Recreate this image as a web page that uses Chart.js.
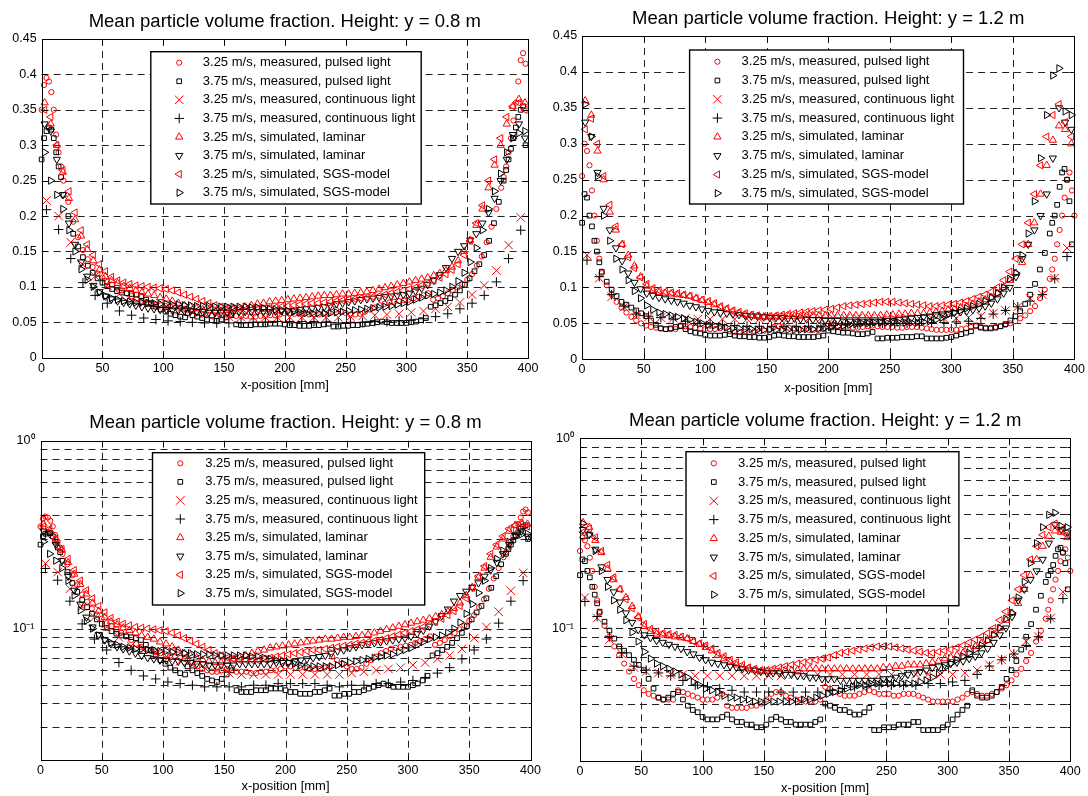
<!DOCTYPE html>
<html><head><meta charset="utf-8">
<script src="https://cdn.jsdelivr.net/npm/chart.js@4/dist/chart.umd.min.js"></script>
<style>
html,body{margin:0;padding:0;background:#fff;}
#wrap{position:relative;width:1088px;height:796px;overflow:hidden;background:#fff;}
canvas{position:absolute;}
</style></head><body>
<div id="wrap">
<canvas id="c1" width="544" height="400" style="left:0;top:0"></canvas>
<canvas id="c2" width="544" height="400" style="left:544px;top:0"></canvas>
<canvas id="c3" width="544" height="396" style="left:0;top:400px"></canvas>
<canvas id="c4" width="544" height="396" style="left:544px;top:400px"></canvas>
</div>
<script>
// ---------------- DATA ----------------
const LABELS = [
  '3.25 m/s, measured, pulsed light',
  '3.75 m/s, measured, pulsed light',
  '3.25 m/s, measured, continuous light',
  '3.75 m/s, measured, continuous light',
  '3.25 m/s, simulated, laminar',
  '3.75 m/s, simulated, laminar',
  '3.25 m/s, simulated, SGS-model',
  '3.75 m/s, simulated, SGS-model'
];
const X_TICKS = [0,50,100,150,200,250,300,350,400];
const Y_TICKS_LIN = [0,0.05,0.1,0.15,0.2,0.25,0.3,0.35,0.4,0.45];
const Y_TICKS_LOG = [0.02,0.03,0.04,0.05,0.06,0.07,0.08,0.09,0.1,0.2,0.3,0.4,0.5,0.6,0.7,0.8,0.9,1];
const Y_LOG_LABELS = {0.1:'10\u207B\u00B9', 1:'10\u2070'};

// x positions of simulated and continuous-light samples [mm]
const X_SIM = [2.5,7.5,12.5,17.5,22.5,27.5,32.5,37.5,42.5,47.5,52.5,57.5,62.5,67.5,72.5,77.5,82.5,87.5,92.5,97.5,
  102.5,107.5,112.5,117.5,122.5,127.5,132.5,137.5,142.5,147.5,152.5,157.5,162.5,167.5,172.5,177.5,182.5,187.5,192.5,197.5,
  202.5,207.5,212.5,217.5,222.5,227.5,232.5,237.5,242.5,247.5,252.5,257.5,262.5,267.5,272.5,277.5,282.5,287.5,292.5,297.5,
  302.5,307.5,312.5,317.5,322.5,327.5,332.5,337.5,342.5,347.5,352.5,357.5,362.5,367.5,372.5,377.5,382.5,387.5,392.5,397.5];
const X_CONT = [4,14,24,34,44,54,64,74,84,94,104,114,124,134,144,154,164,174,184,194,
  204,214,224,234,244,254,264,274,284,294,304,314,324,334,344,354,364,374,384,394];

// ---- Height y = 0.8 m ----
// pulsed light: segments [start x, spacing, values]
const H08_PULSED_325 = [
  [0,2,[0.35,0.385,0.395,0.39,0.375,0.35,0.315,0.29,0.27]],
  [18,4,[0.25,0.22,0.192,0.17,0.152,0.139,0.128,0.119,0.113,0.107,0.103,0.099,0.095,0.091,0.087,0.083,0.08,0.078,0.076,0.075,0.074,0.073,0.072,0.071,0.07,0.069]],
  [120,4,[0.068,0.066,0.063,0.061,0.06,0.059,0.059,0.06,0.061,0.062]],
  [160,4,[0.059,0.059,0.059,0.058,0.058,0.059,0.059,0.06,0.06,0.061,0.063,0.063,0.062,0.062,0.062,0.061,0.061,0.061,0.062,0.063]],
  [238,4,[0.071,0.068,0.065,0.063,0.061,0.061,0.062,0.065,0.068,0.071,0.074,0.076,0.078,0.079,0.08,0.081,0.082,0.084,0.086,0.088,0.091]],
  [322,4,[0.082,0.084,0.087,0.091,0.095,0.099,0.104,0.11,0.118,0.13,0.143,0.163,0.185,0.21,0.24]],
  [380,2,[0.255,0.27,0.29,0.31,0.335,0.36,0.39,0.42,0.43,0.415]]
];
const H08_PULSED_375 = [
  [0,2,[0.28,0.31,0.32,0.325,0.322,0.31,0.29,0.27,0.255]],
  [18,4,[0.23,0.2,0.175,0.157,0.142,0.13,0.12,0.112,0.106,0.101,0.097,0.094,0.092,0.091,0.09,0.089,0.087,0.082,0.077,0.072,0.068,0.065,0.062,0.06,0.058,0.057]],
  [120,4,[0.063,0.06,0.058,0.056,0.054,0.053,0.052,0.054,0.057,0.06]],
  [160,4,[0.047,0.046,0.046,0.046,0.047,0.047,0.047,0.048,0.048,0.048,0.047,0.046,0.046,0.045,0.045,0.045,0.046,0.046,0.047,0.048]],
  [240,4,[0.044,0.044,0.045,0.045,0.046,0.046,0.047,0.048,0.049,0.05,0.051,0.05,0.049,0.049,0.049,0.049,0.05,0.051,0.053,0.056]],
  [320,4,[0.072,0.074,0.077,0.08,0.084,0.089,0.095,0.103,0.112,0.122,0.132,0.145,0.165,0.19,0.22]],
  [380,2,[0.25,0.265,0.28,0.295,0.31,0.325,0.34,0.35,0.355,0.3]]
];
const H08_CONT_325 = [0.222,0.2,0.163,0.131,0.115,0.102,0.09,0.081,0.077,0.074,
  0.07,0.067,0.064,0.062,0.06,0.058,0.057,0.057,0.057,0.057,
  0.057,0.057,0.057,0.057,0.057,0.058,0.059,0.06,0.061,0.062,
  0.064,0.066,0.069,0.072,0.078,0.089,0.102,0.123,0.159,0.198];
const H08_CONT_375 = [0.209,0.181,0.14,0.106,0.088,0.077,0.066,0.06,0.056,0.054,
  0.052,0.051,0.05,0.049,0.049,0.049,0.049,0.05,0.05,0.051,
  0.051,0.051,0.051,0.05,0.049,0.05,0.05,0.051,0.051,0.052,
  0.053,0.055,0.058,0.062,0.069,0.077,0.088,0.107,0.14,0.18];
const H08_LAM_325 = [0.36,0.33,0.3,0.262,0.225,0.195,0.172,0.153,0.137,0.124,
  0.115,0.109,0.105,0.101,0.098,0.095,0.092,0.09,0.088,0.085,
  0.083,0.08,0.077,0.074,0.072,0.07,0.068,0.067,0.066,0.066,
  0.067,0.069,0.07,0.072,0.074,0.076,0.077,0.079,0.08,0.081,
  0.082,0.083,0.084,0.085,0.086,0.087,0.088,0.088,0.089,0.09,
  0.09,0.091,0.092,0.093,0.095,0.097,0.099,0.101,0.103,0.105,
  0.107,0.109,0.111,0.113,0.116,0.119,0.123,0.128,0.137,0.15,
  0.166,0.187,0.21,0.24,0.272,0.3,0.33,0.355,0.365,0.36];
const H08_LAM_375 = [0.33,0.32,0.28,0.23,0.19,0.16,0.135,0.115,0.102,0.093,
  0.087,0.083,0.08,0.078,0.076,0.074,0.072,0.07,0.069,0.068,
  0.068,0.067,0.067,0.066,0.066,0.065,0.065,0.064,0.064,0.064,
  0.064,0.064,0.065,0.065,0.065,0.065,0.065,0.065,0.066,0.066,
  0.066,0.067,0.068,0.069,0.07,0.071,0.072,0.074,0.076,0.077,
  0.079,0.08,0.082,0.083,0.084,0.085,0.086,0.087,0.088,0.089,
  0.091,0.094,0.098,0.103,0.109,0.117,0.127,0.14,0.15,0.158,
  0.166,0.175,0.19,0.205,0.225,0.25,0.28,0.315,0.33,0.31];
const H08_SGS_325 = [0.35,0.34,0.3,0.265,0.235,0.205,0.18,0.16,0.145,0.132,
  0.122,0.114,0.109,0.106,0.104,0.102,0.101,0.1,0.099,0.098,
  0.097,0.095,0.092,0.089,0.086,0.083,0.08,0.077,0.074,0.072,
  0.07,0.069,0.068,0.068,0.068,0.068,0.069,0.07,0.071,0.072,
  0.073,0.074,0.075,0.076,0.077,0.077,0.078,0.079,0.08,0.081,
  0.082,0.083,0.084,0.085,0.086,0.087,0.089,0.091,0.093,0.095,
  0.097,0.099,0.102,0.105,0.109,0.113,0.118,0.124,0.132,0.145,
  0.165,0.19,0.215,0.25,0.28,0.31,0.34,0.355,0.36,0.35];
const H08_SGS_375 = [0.29,0.25,0.23,0.21,0.18,0.15,0.125,0.11,0.1,0.092,
  0.087,0.084,0.082,0.08,0.079,0.078,0.078,0.077,0.077,0.076,
  0.076,0.075,0.075,0.074,0.074,0.073,0.073,0.073,0.072,0.072,
  0.072,0.072,0.072,0.072,0.071,0.071,0.07,0.069,0.068,0.067,
  0.066,0.065,0.064,0.063,0.063,0.063,0.063,0.063,0.064,0.065,
  0.066,0.067,0.068,0.069,0.07,0.071,0.072,0.073,0.075,0.077,
  0.079,0.082,0.085,0.088,0.09,0.092,0.095,0.1,0.108,0.12,
  0.135,0.155,0.18,0.21,0.235,0.26,0.29,0.31,0.317,0.32];

// ---- Height y = 1.2 m ----
const H12_PULSED_325 = [
  [0,2,[0.255,0.3,0.29,0.27,0.235,0.2,0.165,0.14]],
  [16,4,[0.12,0.103,0.09,0.08,0.072,0.065,0.059,0.054,0.05,0.047,0.045,0.044,0.043,0.042,0.042,0.042]],
  [80,4,[0.047,0.046,0.045,0.044,0.043,0.042,0.042,0.042,0.043,0.045]],
  [120,4,[0.039,0.038,0.038,0.038,0.038,0.039,0.039,0.04,0.042,0.045,0.046,0.046,0.044,0.043,0.042,0.042,0.041,0.041,0.041,0.042]],
  [200,4,[0.049,0.048,0.046,0.045,0.044,0.044,0.044,0.045,0.046,0.047,0.046,0.045,0.045,0.045,0.044,0.044,0.045,0.045,0.045,0.044,0.043,0.042,0.041,0.041,0.041,0.041,0.041,0.042,0.043,0.045]],
  [320,4,[0.046,0.045,0.044,0.044,0.045,0.046,0.048,0.05,0.053,0.057,0.061,0.067,0.074,0.085,0.097,0.112]],
  [382,2,[0.125,0.14,0.16,0.18,0.2,0.225,0.25,0.26,0.235,0.2]]
];
const H12_PULSED_375 = [
  [0,2,[0.19,0.23,0.225,0.2,0.185,0.165,0.15,0.135]],
  [16,4,[0.122,0.108,0.097,0.088,0.08,0.076,0.072,0.068,0.064,0.06,0.054,0.048,0.043,0.042,0.043,0.045,0.046,0.042,0.039,0.037,0.036,0.034,0.033,0.033,0.033,0.034]],
  [120,4,[0.035,0.033,0.032,0.032,0.031,0.031,0.03,0.03,0.031,0.033,0.034,0.033,0.032,0.032,0.031,0.031,0.031,0.031,0.032,0.033]],
  [200,4,[0.04,0.039,0.038,0.037,0.037,0.036,0.035,0.035,0.036,0.038]],
  [240,4,[0.029,0.029,0.03,0.03,0.03,0.031,0.031,0.031,0.032,0.032]],
  [280,4,[0.029,0.029,0.029,0.029,0.03,0.031,0.033,0.035,0.037,0.039]],
  [320,4,[0.047,0.044,0.043,0.043,0.044,0.046,0.049,0.054,0.06,0.067,0.077,0.09,0.105,0.125,0.148]],
  [380,2,[0.175,0.19,0.2,0.215,0.24,0.26,0.265,0.25,0.22,0.16]]
];
const H12_CONT_325 = [0.145,0.113,0.087,0.073,0.062,0.059,0.058,0.057,0.057,0.056,
  0.056,0.056,0.056,0.056,0.056,0.056,0.056,0.057,0.057,0.057,
  0.057,0.057,0.057,0.057,0.057,0.057,0.057,0.057,0.057,0.057,
  0.057,0.058,0.06,0.064,0.068,0.073,0.085,0.09,0.113,0.155];
const H12_CONT_375 = [0.138,0.115,0.09,0.074,0.063,0.06,0.058,0.056,0.053,0.05,
  0.049,0.048,0.047,0.046,0.046,0.046,0.046,0.046,0.046,0.046,
  0.047,0.048,0.049,0.049,0.05,0.05,0.05,0.05,0.051,0.051,
  0.052,0.053,0.057,0.063,0.068,0.073,0.081,0.09,0.112,0.143];
const H12_LAM_325 = [0.36,0.34,0.29,0.25,0.205,0.18,0.16,0.145,0.13,0.115,
  0.102,0.096,0.093,0.092,0.091,0.09,0.089,0.088,0.085,0.082,
  0.079,0.076,0.072,0.069,0.066,0.064,0.062,0.061,0.06,0.059,
  0.059,0.059,0.059,0.06,0.06,0.06,0.061,0.061,0.061,0.061,
  0.061,0.061,0.061,0.061,0.061,0.061,0.061,0.061,0.061,0.062,
  0.062,0.063,0.063,0.064,0.064,0.064,0.065,0.066,0.067,0.069,
  0.07,0.072,0.074,0.077,0.08,0.083,0.086,0.092,0.1,0.11,
  0.12,0.135,0.16,0.19,0.23,0.27,0.305,0.325,0.32,0.3];
const H12_LAM_375 = [0.33,0.31,0.26,0.21,0.18,0.155,0.137,0.12,0.107,0.098,
  0.092,0.089,0.086,0.084,0.082,0.08,0.078,0.075,0.073,0.07,
  0.068,0.066,0.065,0.064,0.063,0.062,0.061,0.06,0.06,0.059,
  0.058,0.058,0.058,0.057,0.057,0.056,0.056,0.055,0.055,0.054,
  0.054,0.054,0.053,0.053,0.053,0.053,0.053,0.053,0.053,0.054,
  0.054,0.055,0.056,0.057,0.058,0.059,0.06,0.062,0.063,0.064,
  0.065,0.066,0.067,0.069,0.071,0.074,0.078,0.084,0.092,0.1,
  0.115,0.14,0.16,0.18,0.2,0.23,0.28,0.35,0.33,0.32];
const H12_SGS_325 = [0.32,0.335,0.3,0.255,0.215,0.185,0.16,0.142,0.127,0.114,
  0.105,0.099,0.096,0.094,0.093,0.092,0.09,0.088,0.085,0.083,
  0.081,0.078,0.074,0.071,0.068,0.066,0.064,0.062,0.061,0.06,
  0.06,0.061,0.062,0.063,0.064,0.065,0.066,0.067,0.068,0.069,
  0.07,0.072,0.074,0.075,0.076,0.077,0.078,0.079,0.08,0.08,
  0.08,0.079,0.078,0.077,0.076,0.075,0.074,0.074,0.075,0.076,
  0.077,0.079,0.081,0.084,0.087,0.09,0.094,0.1,0.11,0.122,
  0.14,0.16,0.19,0.23,0.27,0.31,0.34,0.355,0.33,0.31];
const H12_SGS_375 = [0.355,0.31,0.255,0.2,0.165,0.14,0.125,0.11,0.095,0.085,
  0.075,0.069,0.065,0.063,0.061,0.059,0.057,0.055,0.052,0.05,
  0.048,0.047,0.046,0.044,0.043,0.043,0.042,0.042,0.041,0.041,
  0.041,0.041,0.041,0.041,0.041,0.041,0.042,0.042,0.043,0.044,
  0.045,0.046,0.047,0.048,0.049,0.05,0.05,0.051,0.051,0.051,
  0.051,0.051,0.051,0.051,0.051,0.052,0.053,0.055,0.058,0.062,
  0.065,0.068,0.071,0.074,0.077,0.081,0.086,0.092,0.1,0.112,
  0.12,0.145,0.175,0.22,0.28,0.34,0.395,0.405,0.345,0.34];

// ---------------- STYLE ----------------
const FONT = "'Liberation Sans', Arial, Helvetica, sans-serif";
const RED = '#ff0000', BLK = '#000000';
const STYLES = [
  {style:'circle',   color:RED, r:2.6, rot:0},
  {style:'rect',     color:BLK, r:3.3, rot:0},
  {style:'crossRot', color:RED, r:6.0, rot:0},
  {style:'cross',    color:BLK, r:4.8, rot:0},
  {style:'triangle', color:RED, r:4.2, rot:0},
  {style:'triangle', color:BLK, r:4.2, rot:180},
  {style:'triangle', color:RED, r:4.2, rot:270},
  {style:'triangle', color:BLK, r:4.2, rot:90}
];

function segPoints(segs){
  const out = [];
  segs.forEach(([x0,dx,ys]) => ys.forEach((y,i) => out.push({x: Math.round((x0+i*dx)*100)/100, y})));
  return out;
}
function zipPoints(xs, ys){ return ys.map((y,i) => ({x: xs[i], y})); }

function buildDatasets(p325,p375,c325,c375,l325,l375,s325,s375){
  const series = [segPoints(p325), segPoints(p375), zipPoints(X_CONT,c325), zipPoints(X_CONT,c375),
                  zipPoints(X_SIM,l325), zipPoints(X_SIM,l375), zipPoints(X_SIM,s325), zipPoints(X_SIM,s375)];
  return series.map((pts,i) => ({
    label: LABELS[i], data: pts, showLine: false,
    pointStyle: STYLES[i].style, pointRadius: STYLES[i].r, pointHoverRadius: STYLES[i].r,
    pointRotation: STYLES[i].rot, pointBorderColor: STYLES[i].color,
    pointBackgroundColor: 'rgba(0,0,0,0)', pointBorderWidth: 1,
    clip: false, order: 7 - i
  }));
}

function drawMarker(ctx, st, x, y){
  ctx.save();
  ctx.strokeStyle = st.color; ctx.lineWidth = 1; ctx.beginPath();
  const r = st.r;
  if (st.style === 'circle') ctx.arc(x, y, r, 0, Math.PI*2);
  else if (st.style === 'rect') { const s = r*Math.SQRT1_2; ctx.rect(x-s, y-s, 2*s, 2*s); }
  else if (st.style === 'cross') { ctx.moveTo(x-r,y); ctx.lineTo(x+r,y); ctx.moveTo(x,y-r); ctx.lineTo(x,y+r); }
  else if (st.style === 'crossRot') { const s = r*Math.SQRT1_2; ctx.moveTo(x-s,y-s); ctx.lineTo(x+s,y+s); ctx.moveTo(x-s,y+s); ctx.lineTo(x+s,y-s); }
  else if (st.style === 'triangle') {
    let a = st.rot*Math.PI/180;
    ctx.moveTo(x+Math.sin(a)*r, y-Math.cos(a)*r);
    for (let k=0;k<2;k++){ a += 2*Math.PI/3; ctx.lineTo(x+Math.sin(a)*r, y-Math.cos(a)*r); }
    ctx.closePath();
  }
  ctx.stroke(); ctx.restore();
}

function axesPlugin(spec){
  const yGrid = spec.log ? Y_TICKS_LOG.slice(1,-1) : Y_TICKS_LIN.slice(1,-1);
  return {
    id: 'matlabAxes',
    beforeDatasetsDraw(chart){
      const {ctx, chartArea:a, scales:{x,y}} = chart;
      ctx.save();
      ctx.strokeStyle = '#222'; ctx.lineWidth = 1; ctx.setLineDash([7,5]);
      ctx.beginPath();
      X_TICKS.slice(1,-1).forEach(v => { const p = Math.round(x.getPixelForValue(v))+0.5; ctx.moveTo(p,a.top); ctx.lineTo(p,a.bottom); });
      yGrid.forEach(v => { const p = Math.round(y.getPixelForValue(v))+0.5; ctx.moveTo(a.left,p); ctx.lineTo(a.right,p); });
      ctx.stroke();
      ctx.restore();
    },
    afterDatasetsDraw(chart){
      const {ctx, chartArea:a, scales:{x,y}} = chart;
      const L = Math.round(a.left)+0.5, R = Math.round(a.right)+0.5, T = Math.round(a.top)+0.5, B = Math.round(a.bottom)+0.5;
      ctx.save();
      ctx.strokeStyle = '#000'; ctx.lineWidth = 1; ctx.setLineDash([]);
      ctx.beginPath();
      X_TICKS.slice(1,-1).forEach(v => { const p = Math.round(x.getPixelForValue(v))+0.5; ctx.moveTo(p,B); ctx.lineTo(p,B-5); ctx.moveTo(p,T); ctx.lineTo(p,T+5); });
      yGrid.forEach(v => {
        const p = Math.round(y.getPixelForValue(v))+0.5;
        const len = (spec.log && v !== 0.1) ? 3 : 5;
        ctx.moveTo(L,p); ctx.lineTo(L+len,p); ctx.moveTo(R,p); ctx.lineTo(R-len,p);
      });
      ctx.stroke();
      ctx.strokeRect(L, T, R-L, B-T);
      // legend box
      const g = spec.legend;
      const bx = a.left + g.dx, by = a.top + g.dy;
      ctx.fillStyle = '#fff';
      ctx.fillRect(bx, by, g.w, g.h);
      ctx.lineWidth = 1.4;
      ctx.strokeRect(bx, by, g.w, g.h);
      ctx.font = '13px ' + FONT; ctx.fillStyle = '#000'; ctx.textBaseline = 'middle'; ctx.textAlign = 'left';
      LABELS.forEach((lab,i) => {
        const ry = by + g.first + i*g.step;
        drawMarker(ctx, STYLES[i], bx + g.mx, ry);
        ctx.fillText(lab, bx + g.tx, ry);
      });
      ctx.restore();
    }
  };
}

function makeChart(id, spec, datasets){
  const cv = document.getElementById(id);
  const W = cv.width, H = cv.height, A = spec.area;
  const yScale = spec.log ? {
      type:'logarithmic', min:0.02, max:1,
      afterBuildTicks: s => { s.ticks = Y_TICKS_LOG.map(v => ({value:v})); },
      ticks:{ autoSkip:false, color:'#000', font:{family:FONT, size:12.5}, padding:6,
              callback: v => Y_LOG_LABELS[v] || '' }
    } : {
      type:'linear', min:0, max:0.45,
      afterBuildTicks: s => { s.ticks = Y_TICKS_LIN.map(v => ({value:v})); },
      ticks:{ autoSkip:false, color:'#000', font:{family:FONT, size:12.5}, padding:5,
              callback: v => String(+Number(v).toFixed(2)) }
    };
  Object.assign(yScale, {
    grid:{display:false, drawTicks:false}, border:{display:false},
    afterFit: s => { s.width = A.l; }
  });
  return new Chart(cv, {
    type:'scatter',
    data:{datasets},
    options:{
      responsive:false, animation:false, devicePixelRatio:1,
      events:[],
      layout:{padding:{left:0, right:W - A.r, top:0, bottom:0}},
      plugins:{
        legend:{display:false}, tooltip:{enabled:false},
        title:{display:true, text:spec.title, color:'#000', fullSize:false,
               font:{family:FONT, size:18.5, weight:'normal', lineHeight:1.2},
               padding:{top:A.t - 28.6, bottom:6.4}}
      },
      scales:{
        x:{type:'linear', position:'bottom', min:0, max:400,
           afterBuildTicks: s => { s.ticks = X_TICKS.map(v => ({value:v})); },
           ticks:{autoSkip:false, maxRotation:0, color:'#000', font:{family:FONT, size:12.5}, padding:3},
           grid:{display:false, drawTicks:false}, border:{display:false},
           title:{display:true, text:'x-position [mm]', color:'#000', font:{family:FONT, size:13}, padding:{top:0, bottom:spec.xtb}},
           afterFit: s => { s.height = H - A.b; }
        },
        y: yScale
      }
    },
    plugins:[axesPlugin(spec)]
  });
}

const D08 = () => buildDatasets(H08_PULSED_325,H08_PULSED_375,H08_CONT_325,H08_CONT_375,H08_LAM_325,H08_LAM_375,H08_SGS_325,H08_SGS_375);
const D12 = () => buildDatasets(H12_PULSED_325,H12_PULSED_375,H12_CONT_325,H12_CONT_375,H12_LAM_325,H12_LAM_375,H12_SGS_325,H12_SGS_375);

makeChart('c1', {log:false, title:'Mean particle volume fraction. Height: y = 0.8 m',
  area:{l:41.6, t:39, r:528, b:357.7}, xtb:7.2,
  legend:{dx:109.2, dy:12.7, w:270.4, h:152.3, mx:28.4, tx:52, first:11, step:18.57}}, D08());
makeChart('c2', {log:false, title:'Mean particle volume fraction. Height: y = 1.2 m',
  area:{l:38.1, t:36, r:530.4, b:359.3}, xtb:3.9,
  legend:{dx:107.5, dy:14, w:273.9, h:154, mx:27.8, tx:52, first:11.7, step:18.8}}, D12());
makeChart('c3', {log:true, title:'Mean particle volume fraction. Height: y = 0.8 m',
  area:{l:40.5, t:40.7, r:530.5, b:360}, xtb:1.5,
  legend:{dx:112, dy:12, w:272.2, h:152.3, mx:27.8, tx:52.7, first:10.6, step:18.57}}, D08());
makeChart('c4', {log:true, title:'Mean particle volume fraction. Height: y = 1.2 m',
  area:{l:36, t:38.3, r:526.3, b:360.7}, xtb:0,
  legend:{dx:106, dy:13.4, w:272.9, h:154, mx:27.8, tx:52.1, first:11.6, step:18.77}}, D12());
</script>
</body></html>
